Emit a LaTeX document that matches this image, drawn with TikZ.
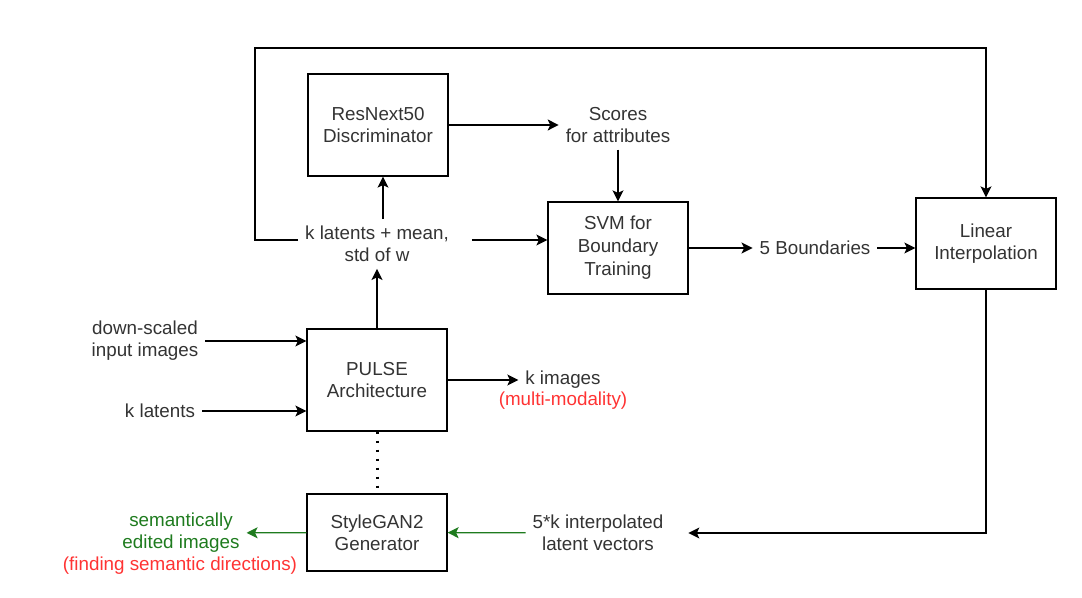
\documentclass[tikz,border=0pt]{standalone}
\usepackage{fontspec}
\setmainfont{Liberation Sans}
\usepackage{xcolor}
\usetikzlibrary{positioning, arrows.meta}
\definecolor{txtgray}{HTML}{333333}
\definecolor{dgreen}{HTML}{1E7B1E}
\definecolor{lred}{HTML}{FF3333}

\begin{document}
\begin{tikzpicture}[x=0.5pt, y=-0.5pt, font=\fontsize{9.4}{11}\selectfont]
    % Define styles
    \tikzstyle{block} = [rectangle, draw=black, line width=0.65pt, text=txtgray, align=center, minimum width=70pt]
    \tikzstyle{txt} = [text=txtgray, align=center]
    \tikzstyle{arrow} = [line width=0.65pt, -{Stealth[length=5.5pt, width=5.5pt, inset=1.3pt]}]
    \tikzstyle{garrow} = [arrow, draw=dgreen]

    \useasboundingbox (0,0) rectangle (1082,598);

    % Boxes
    \node [block, minimum height=51pt] (resnext) at (378,125) {ResNext50\\Discriminator};
    \node [block, minimum height=46pt, font=\fontsize{9.4}{11.5}\selectfont] (svm) at (618,248) {SVM for\\Boundary\\Training};
    \node [block, minimum height=45.5pt] (linear) at (986,243.5) {Linear\\Interpolation};
    \node [block, minimum height=51pt] (pulse) at (377,380) {PULSE\\Architecture};
    \node [block, minimum height=38.5pt] (stylegan) at (377,532.5) {StyleGAN2\\Generator};

    % Texts
    \node [txt] (scores) at (618,125) {Scores\\for attributes};
    \node [txt] (latents) at (377,244) {k latents + mean,\\std of w};
    \node [txt] (bounds) at (815,248) {5 Boundaries};
    \node [txt] (down) at (145,341) {down-scaled\\input images};
    \node [txt] (klat) at (160,411) {k latents};
    \node [txt] (kimg) at (563,380) {k images};
    \node [txt, text=lred] (modal) at (563,401) {(multi-modality)};
    \node [txt] (interp) at (598,533) {5*k interpolated\\latent vectors};
    \node [txt, text=dgreen] (edited) at (181,533) {semantically\\edited images};
    \node [txt, text=lred] (finding) at (180,566) {(finding semantic directions)};
    \coordinate (loop) at (255,48);

    % Arrows
    \draw [arrow] (resnext) -- (scores);
    \draw [arrow] (scores) -- (svm);
    \draw [arrow] (latents.north -| 383,0) -- (resnext.south -| 383,0);
    \draw [arrow] ([xshift=8pt, yshift=2pt]latents.east) -- ([yshift=2pt]latents.east -| svm.west);
    \draw [arrow] ([yshift=2pt]latents.west) -| (loop) -| (linear.north);
    \draw [arrow] (svm) -- (bounds);
    \draw [arrow] (bounds.east) -- (bounds.east -| linear.west);
    \draw [arrow] (linear.south) |- ([xshift=9pt]interp.east);
    \draw [garrow] (interp) -- (stylegan);
    \draw [garrow] (stylegan) -- (edited);
    \draw [arrow] (pulse) -- (latents);
    \draw [arrow] (down.east) -- (down.east -| pulse.west);
    \draw [arrow] (klat.east) -- (klat.east -| pulse.west);
    \draw [arrow] (pulse) -- (kimg);
    \draw [line width=1.5pt, dash pattern=on 1.3pt off 3.2pt] (pulse) -- (stylegan);
\end{tikzpicture}
\end{document}
